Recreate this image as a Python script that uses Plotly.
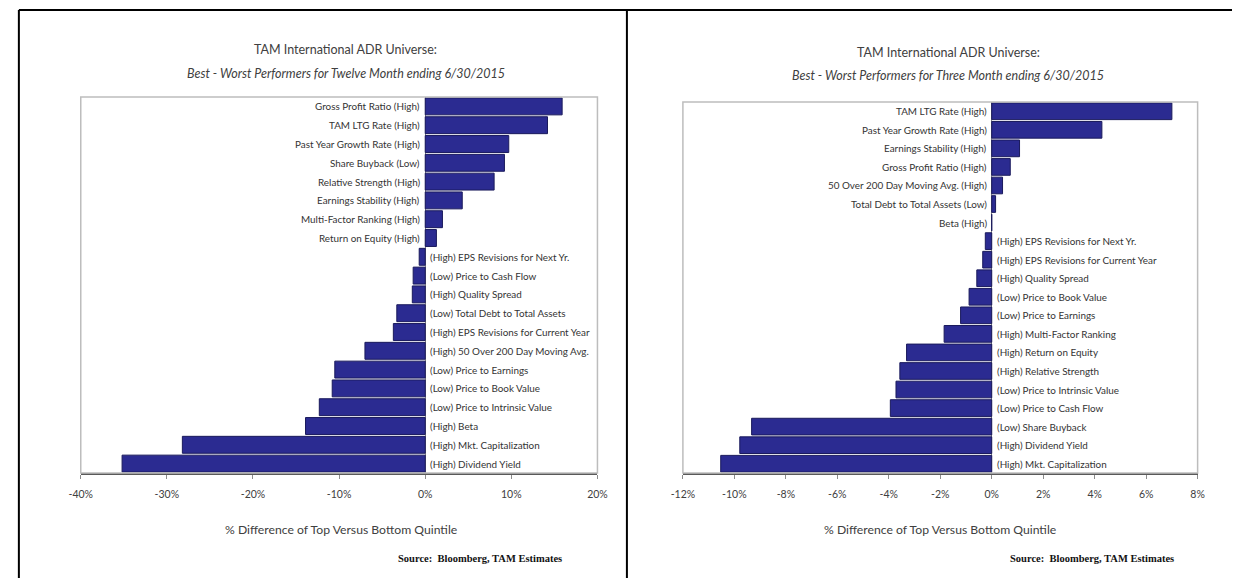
import plotly.graph_objects as go

# ---------------- data ----------------
left_labels = [
    "Gross Profit Ratio (High)", "TAM LTG Rate (High)", "Past Year Growth Rate (High)",
    "Share Buyback (Low)", "Relative Strength (High)", "Earnings Stability (High)",
    "Multi-Factor Ranking (High)", "Return on Equity (High)",
    "(High) EPS Revisions for Next Yr.", "(Low) Price to Cash Flow", "(High) Quality Spread",
    "(Low) Total Debt to Total Assets", "(High) EPS Revisions for Current Year",
    "(High) 50 Over 200 Day Moving Avg.", "(Low) Price to Earnings", "(Low) Price to Book Value",
    "(Low) Price to Intrinsic Value", "(High) Beta", "(High) Mkt. Capitalization",
    "(High) Dividend Yield",
]
left_values = [15.9, 14.2, 9.7, 9.2, 8.0, 4.3, 2.0, 1.3,
               -0.7, -1.4, -1.5, -3.3, -3.7, -7.0, -10.5, -10.8, -12.3, -13.9, -28.2, -35.2]

right_labels = [
    "TAM LTG Rate (High)", "Past Year Growth Rate (High)", "Earnings Stability (High)",
    "Gross Profit Ratio (High)", "50 Over 200 Day Moving Avg. (High)",
    "Total Debt to Total Assets (Low)", "Beta (High)",
    "(High) EPS Revisions for Next Yr.", "(High) EPS Revisions for Current Year",
    "(High) Quality Spread", "(Low) Price to Book Value", "(Low) Price to Earnings",
    "(High) Multi-Factor Ranking", "(High) Return on Equity", "(High) Relative Strength",
    "(Low) Price to Intrinsic Value", "(Low) Price to Cash Flow", "(Low) Share Buyback",
    "(High) Dividend Yield", "(High) Mkt. Capitalization",
]
right_values = [7.0, 4.28, 1.08, 0.72, 0.42, 0.15, 0.0,
                -0.25, -0.35, -0.58, -0.88, -1.21, -1.85, -3.31, -3.57, -3.72, -3.94,
                -9.33, -9.79, -10.53]

left_ticks = [-40, -30, -20, -10, 0, 10, 20]
left_tick_text = ["-40%", "-30%", "-20%", "-10%", "0%", "10%", "20%"]
right_ticks = [-12, -10, -8, -6, -4, -2, 0, 2, 4, 6, 8]
right_tick_text = ["-12%", "-10%", "-8%", "-6%", "-4%", "-2%", "0%", "2%", "4%", "6%", "8%"]

title_line1 = "TAM International ADR Universe:"
left_title2 = "Best - Worst Performers for Twelve Month ending 6/30/2015"
right_title2 = "Best - Worst Performers for Three Month ending 6/30/2015"
x_title = "% Difference of Top Versus Bottom Quintile"
source_text = "Source:  Bloomberg, TAM Estimates"

# ---------------- style ----------------
W, H = 1242, 578
FONT = "Lato, Roboto, sans-serif"
TXT = "#404040"
BAR = "#2B2B91"
BAR_LINE = "#1A1A5C"


def px_x(p):
    return p / W


def px_y(p):
    return 1 - p / H


fig = go.Figure()

fig.add_trace(go.Bar(x=left_values, y=left_labels, orientation="h",
                     marker=dict(color=BAR, line=dict(color=BAR_LINE, width=1)),
                     xaxis="x", yaxis="y", showlegend=False, hoverinfo="x+y"))
fig.add_trace(go.Bar(x=right_values, y=right_labels, orientation="h",
                     marker=dict(color=BAR, line=dict(color=BAR_LINE, width=1)),
                     xaxis="x2", yaxis="y2", showlegend=False, hoverinfo="x+y"))

annotations = []
for labels, values, xr, yr in [(left_labels, left_values, "x", "y"),
                               (right_labels, right_values, "x2", "y2")]:
    for lab, v in zip(labels, values):
        pos = v >= 0
        annotations.append(dict(
            x=0, y=lab, xref=xr, yref=yr, text=lab, showarrow=False,
            xanchor="right" if pos else "left", xshift=-3 if pos else 3,
            font=dict(family=FONT, size=9.9, color="#333333")))

# titles
for cx, ty, line2 in [(340, 50, left_title2), (953, 52, right_title2)]:
    annotations.append(dict(x=px_x(cx), y=px_y(ty), xref="paper", yref="paper",
                            text=title_line1, showarrow=False, xanchor="center", yanchor="middle",
                            font=dict(family=FONT, size=12.5, color=TXT)))
    annotations.append(dict(x=px_x(cx), y=px_y(ty + 23), xref="paper", yref="paper",
                            text="<i>" + line2 + "</i>", showarrow=False, xanchor="center",
                            yanchor="middle", font=dict(family=FONT, size=12.5, color=TXT)))

# axis titles
for cx in [335, 945]:
    annotations.append(dict(x=px_x(cx), y=px_y(529), xref="paper", yref="paper",
                            text=x_title, showarrow=False, xanchor="center", yanchor="middle",
                            font=dict(family=FONT, size=12.2, color=TXT)))

# source
for rx in [562, 1185]:
    annotations.append(dict(x=px_x(rx), y=px_y(558), xref="paper", yref="paper",
                            text="<b>" + source_text + "</b>", showarrow=False,
                            xanchor="right", yanchor="middle",
                            font=dict(family="Liberation Serif, Times New Roman, serif",
                                      size=10.5, color="#111111")))

shapes = []
# plot frames
for xr, yr in [("x domain", "y domain"), ("x2 domain", "y2 domain")]:
    shapes.append(dict(type="rect", xref=xr, yref=yr, x0=0, x1=1, y0=0, y1=1,
                       line=dict(color="#BDBDBD", width=1.5), layer="above"))
# outer panel borders
shapes += [
    dict(type="line", xref="paper", yref="paper", x0=px_x(7), x1=px_x(7), y0=0, y1=px_y(10),
         line=dict(color="black", width=2)),
    dict(type="line", xref="paper", yref="paper", x0=px_x(7), x1=1, y0=px_y(10), y1=px_y(10),
         line=dict(color="black", width=2)),
    dict(type="line", xref="paper", yref="paper", x0=px_x(626), x1=px_x(626), y0=0, y1=px_y(10),
         line=dict(color="black", width=2)),
]

xaxis_common = dict(showgrid=False, zeroline=True, zerolinecolor="#7F7F7F", zerolinewidth=1,
                    showline=True, linecolor="#595959", linewidth=2, ticks="outside",
                    ticklen=4, tickcolor="#8C8C8C", ticklabelstandoff=6,
                    tickfont=dict(family=FONT, size=10.5, color=TXT))
yaxis_common = dict(showticklabels=False, showgrid=False, zeroline=False, showline=False,
                    ticks="", autorange="reversed", type="category")

fig.update_layout(
    width=W, height=H, margin=dict(l=0, r=0, t=0, b=0),
    paper_bgcolor="white", plot_bgcolor="white",
    bargap=0.1,
    xaxis=dict(domain=[px_x(70), px_x(596)], range=[-40, 20], tickvals=left_ticks,
               ticktext=left_tick_text, anchor="y", **xaxis_common),
    yaxis=dict(domain=[px_y(473), px_y(97)], anchor="x", **yaxis_common),
    xaxis2=dict(domain=[px_x(683), px_x(1207)], range=[-12, 8], tickvals=right_ticks,
                ticktext=right_tick_text, anchor="y2", **xaxis_common),
    yaxis2=dict(domain=[px_y(473), px_y(102)], anchor="x2", **yaxis_common),
    annotations=annotations,
    shapes=shapes,
)

fig.write_html("out.html", config={"displayModeBar": False},
               post_script="document.body.style.margin='0';document.body.style.overflow='hidden';")
